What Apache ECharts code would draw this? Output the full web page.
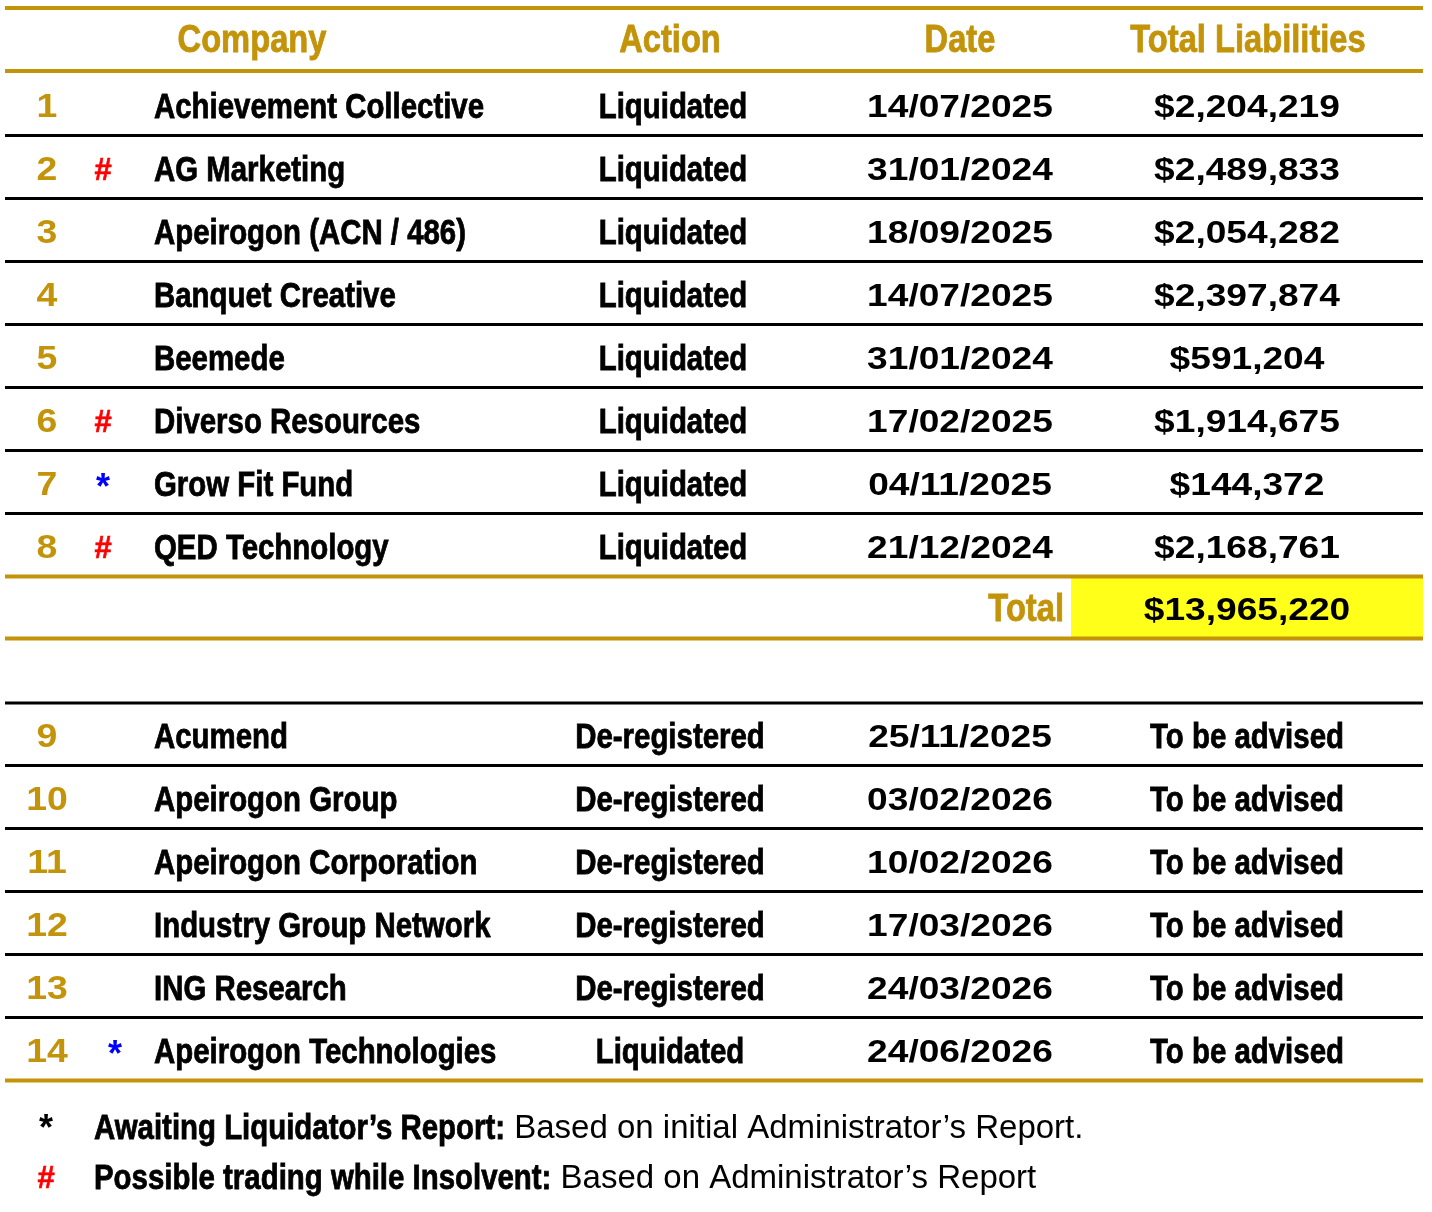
<!DOCTYPE html>
<html><head><meta charset="utf-8">
<script src="https://cdn.jsdelivr.net/npm/echarts@6/dist/echarts.min.js"></script>
<style>html,body{margin:0;padding:0;background:#fff}#c{width:1432px;height:1212px}</style>
</head><body><div id="c"></div>
<script>
// ---------- DATA ----------
const headers = ['Company', 'Action', 'Date', 'Total Liabilities'];
const rowNumbers = [1, 2, 3, 4, 5, 6, 7, 8, 9, 10, 11, 12, 13, 14];
const markers = ['', '#', '', '', '', '#', '*', '#', '', '', '', '', '', '*'];
const companies = ['Achievement Collective', 'AG Marketing', 'Apeirogon (ACN / 486)', 'Banquet Creative', 'Beemede',
  'Diverso Resources', 'Grow Fit Fund', 'QED Technology', 'Acumend', 'Apeirogon Group', 'Apeirogon Corporation',
  'Industry Group Network', 'ING Research', 'Apeirogon Technologies'];
const actions = ['Liquidated', 'Liquidated', 'Liquidated', 'Liquidated', 'Liquidated', 'Liquidated', 'Liquidated', 'Liquidated',
  'De-registered', 'De-registered', 'De-registered', 'De-registered', 'De-registered', 'Liquidated'];
const dates = ['14/07/2025', '31/01/2024', '18/09/2025', '14/07/2025', '31/01/2024', '17/02/2025', '04/11/2025', '21/12/2024',
  '25/11/2025', '03/02/2026', '10/02/2026', '17/03/2026', '24/03/2026', '24/06/2026'];
const liabilities = [2204219, 2489833, 2054282, 2397874, 591204, 1914675, 144372, 2168761, null, null, null, null, null, null];
const pendingLabel = 'To be advised';
const totalLabel = 'Total';
const footnoteMarks = ['*', '#'];
const footnoteTitles = ['Awaiting Liquidator\u2019s Report:', 'Possible trading while Insolvent:'];
const footnoteTexts = ['Based on initial Administrator\u2019s Report.', 'Based on Administrator\u2019s Report'];

// ---------- STYLE / LAYOUT ----------
const GOLD = '#C39309', BLACK = '#000000', YELLOW = '#FFFF1A';
const MARK_COLORS = { '#': '#FF0000', '*': '#0000FF' };
const SANS = '"Liberation Sans", Arial, sans-serif';
const BODY_FONT = 'bold 35px ' + SANS, BODY_SX = 0.84, BODY_STROKE = 0.8;   // condensed, heavy look
const HEAD_FONT = 'bold 38px ' + SANS, HEAD_SX = 0.86;
const NUM_FONT = 'bold 32px ' + SANS, NUM_SX = 1.16;
const TEXT_DY = 2;
const LEFT = 5, RIGHT = 1423;
const ROW_H = 63, T1_ROWS = 8, T1_FIRST = 106, T2_FIRST = 736;
const HEADER_Y = 40, TOTAL_Y = 609;
const COL = { num: 47, mark1: 103, mark2: 115, company: 154, action1: 673, action2: 670, date: 960, liab: 1247 };
const HEADER_X = [252, 670, 960, 1248];
const TOTAL_LABEL_RIGHT = 1064, TOTAL_BOX_LEFT = 1071;
const FOOT_Y0 = 1127, FOOT_DY = 50, FOOT_MARK_X = 46, FOOT_TEXT_X = 94;
const FOOT_REG_FONT = '33px ' + SANS;

const rowCenter = i => i < T1_ROWS ? T1_FIRST + i * ROW_H : T2_FIRST + (i - T1_ROWS) * ROW_H;
const money = v => '$' + v.toLocaleString('en-US');
const total = liabilities.filter(v => v != null).reduce((a, b) => a + b, 0);

const mctx = document.createElement('canvas').getContext('2d');
function measure(text, font) { mctx.font = font; return mctx.measureText(text).width; }

// rules (horizontal lines) derived from row layout
const rules = [];
rules.push({ y: 8, c: GOLD, w: 4 });
rules.push({ y: 71, c: GOLD, w: 4 });
for (let i = 0; i < rowNumbers.length; i++) {
  const last = i === T1_ROWS - 1 || i === rowNumbers.length - 1;
  rules.push({ y: rowCenter(i) + 29.5, c: last ? GOLD : BLACK, w: last ? 4 : 3 });
}
rules.push({ y: TOTAL_Y + 29.5, c: GOLD, w: 4 });
rules.push({ y: T2_FIRST - 33, c: BLACK, w: 3 });

function txt(p, text, opt) {
  const fill = opt.fill || BLACK;
  const style = { text: text, fill: fill, align: opt.align || 'center', verticalAlign: 'middle', font: opt.font };
  if (opt.sw) { style.stroke = fill; style.lineWidth = opt.sw; }
  return { type: 'text', x: p[0], y: p[1] + TEXT_DY + (opt.dy || 0), scaleX: opt.sx || 1, style: style };
}
function markerEl(p, m, fill, dy) {
  return txt(p, m, { fill: fill, font: (m === '*' ? 'bold 36px ' : 'bold 31px ') + SANS, sw: m === '#' ? 0.6 : 0, dy: (m === '*' ? 3 : 0) + (dy || 0) });
}
const body = (p, text, align) => txt(p, text, { align: align, font: BODY_FONT, sx: BODY_SX, sw: BODY_STROKE });

const chart = echarts.init(document.getElementById('c'), null, { renderer: 'canvas' });
chart.setOption({
  animation: false,
  backgroundColor: '#fff',
  grid: { left: 0, right: 0, top: 0, bottom: 0 },
  xAxis: { type: 'value', min: 0, max: 1432, show: false },
  yAxis: { type: 'value', min: 0, max: 1212, inverse: true, show: false },
  series: [
    {
      type: 'custom', name: 'rules', clip: false, silent: true,
      data: rules.map((r, i) => [i, r.y]),
      renderItem: function (params, api) {
        const r = rules[params.dataIndex];
        const children = [];
        if (params.dataIndex === 0) {
          const a = api.coord([TOTAL_BOX_LEFT, TOTAL_Y - 31]);
          const b = api.coord([RIGHT, TOTAL_Y + 28]);
          children.push({ type: 'rect', shape: { x: a[0], y: a[1], width: b[0] - a[0], height: b[1] - a[1] }, style: { fill: YELLOW } });
        }
        const p1 = api.coord([LEFT, r.y]), p2 = api.coord([RIGHT, r.y]);
        children.push({ type: 'line', shape: { x1: p1[0], y1: p1[1], x2: p2[0], y2: p2[1] }, style: { stroke: r.c, lineWidth: r.w } });
        return { type: 'group', children: children };
      }
    },
    {
      type: 'custom', name: 'rows', clip: false, silent: true,
      data: rowNumbers.map((n, i) => [n, rowCenter(i)]),
      renderItem: function (params, api) {
        const i = params.dataIndex;
        const y = rowCenter(i);
        const P = x => api.coord([x, y]);
        const t1 = i < T1_ROWS;
        const ch = [];
        ch.push(txt(P(COL.num), String(rowNumbers[i]), { fill: GOLD, font: 'bold 34px ' + SANS, sx: 1.1 }));
        if (markers[i]) ch.push(markerEl(P(t1 ? COL.mark1 : COL.mark2), markers[i], MARK_COLORS[markers[i]]));
        ch.push(body(P(COL.company), companies[i], 'left'));
        ch.push(body(P(t1 ? COL.action1 : COL.action2), actions[i]));
        ch.push(txt(P(COL.date), dates[i], { font: NUM_FONT, sx: NUM_SX }));
        if (liabilities[i] != null) ch.push(txt(P(COL.liab), money(liabilities[i]), { font: NUM_FONT, sx: NUM_SX }));
        else ch.push(body(P(COL.liab), pendingLabel));
        return { type: 'group', children: ch };
      }
    },
    {
      type: 'custom', name: 'static', clip: false, silent: true,
      data: [[0, 0]],
      renderItem: function (params, api) {
        const ch = [];
        headers.forEach((h, k) => ch.push(txt(api.coord([HEADER_X[k], HEADER_Y]), h, { fill: GOLD, font: HEAD_FONT, sx: HEAD_SX, sw: BODY_STROKE })));
        ch.push(txt(api.coord([TOTAL_LABEL_RIGHT, TOTAL_Y]), totalLabel, { fill: GOLD, align: 'right', font: HEAD_FONT, sx: HEAD_SX, sw: BODY_STROKE }));
        ch.push(txt(api.coord([COL.liab, TOTAL_Y]), money(total), { font: NUM_FONT, sx: NUM_SX }));
        footnoteMarks.forEach((m, k) => {
          const y = FOOT_Y0 + k * FOOT_DY;
          ch.push(markerEl(api.coord([FOOT_MARK_X, y]), m, m === '#' ? MARK_COLORS['#'] : BLACK, m === '*' ? -2 : 0));
          const p = api.coord([FOOT_TEXT_X, y]);
          ch.push(body(p, footnoteTitles[k], 'left'));
          const bw = measure(footnoteTitles[k], BODY_FONT) * BODY_SX + measure(' ', FOOT_REG_FONT);
          ch.push(txt([p[0] + bw, p[1]], footnoteTexts[k], { align: 'left', font: FOOT_REG_FONT }));
        });
        return { type: 'group', children: ch };
      }
    }
  ]
});
</script>
</body></html>
